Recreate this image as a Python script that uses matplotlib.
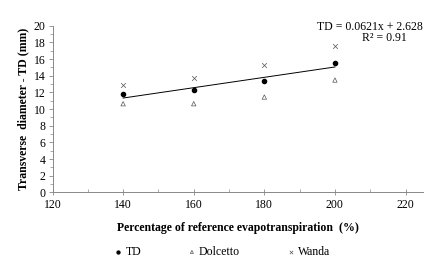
import matplotlib
matplotlib.use('Agg')
import matplotlib.pyplot as plt
from matplotlib.ticker import MultipleLocator
import numpy as np

plt.rcParams['font.family'] = ['Liberation Serif', 'DejaVu Serif']

ETP = [140, 160, 180, 200]
TD = [11.76, 12.24, 13.4, 15.56]
DOLCETTO = [10.64, 10.64, 11.44, 13.48]
WANDA = [12.92, 13.72, 15.32, 17.52]
SLOPE, INTERCEPT = 0.0621, 2.628

FS = 8.5

fig = plt.figure(figsize=(4.45, 2.65), dpi=100)
ax = fig.add_axes([0.118, 0.274, 0.833, 0.629])

x = np.array(ETP)
ax.plot(x, SLOPE * x + INTERCEPT, color='black', lw=0.7, zorder=2)
ax.scatter(ETP, TD, s=9, color='black', marker='o', zorder=3, label='TD')
ax.scatter(ETP, DOLCETTO, s=10, facecolor='none', edgecolor='#555555',
           marker='^', linewidths=0.5, zorder=3, label='Dolcetto')
ax.scatter(ETP, WANDA, s=12, color='#555555', marker='x',
           linewidths=0.5, zorder=3, label='Wanda')

ax.set_xlim(120, 225)
ax.set_ylim(0, 20)
ax.xaxis.set_major_locator(MultipleLocator(20))
ax.xaxis.set_minor_locator(MultipleLocator(10))
ax.yaxis.set_major_locator(MultipleLocator(2))
ax.yaxis.set_minor_locator(MultipleLocator(1))
for s in ('top', 'right'):
    ax.spines[s].set_visible(False)
for s in ('left', 'bottom'):
    ax.spines[s].set_color('#888888')
    ax.spines[s].set_linewidth(0.7)
ax.tick_params(which='major', length=3, width=0.6, color='#888888',
               labelsize=FS, pad=2)
ax.tick_params(which='minor', length=2, width=0.5, color='#888888')
ax.tick_params(axis='x', direction='inout', length=5)
ax.tick_params(axis='x', which='minor', direction='in', length=2)

ax.set_xlabel('Percentage of reference evapotranspiration  (%)',
              fontsize=FS, fontweight='bold', labelpad=8)
ax.set_ylabel('Transverse  diameter - TD (mm)', fontsize=FS,
              fontweight='bold', labelpad=3)

ax.text(225, 19.88, 'TD = 0.0621x + 2.628', fontsize=FS, ha='right', va='center')
ax.text(214.1, 18.58, 'R² = 0.91', fontsize=FS, ha='center', va='center')

fig.legend(*ax.get_legend_handles_labels(), loc='center',
           bbox_to_anchor=(0.5, 0.049), ncol=3, frameon=False, fontsize=FS,
           handlelength=0.6, handletextpad=0.3, columnspacing=4.0,
           markerscale=0.7)

fig.savefig('out.png', dpi=100)
